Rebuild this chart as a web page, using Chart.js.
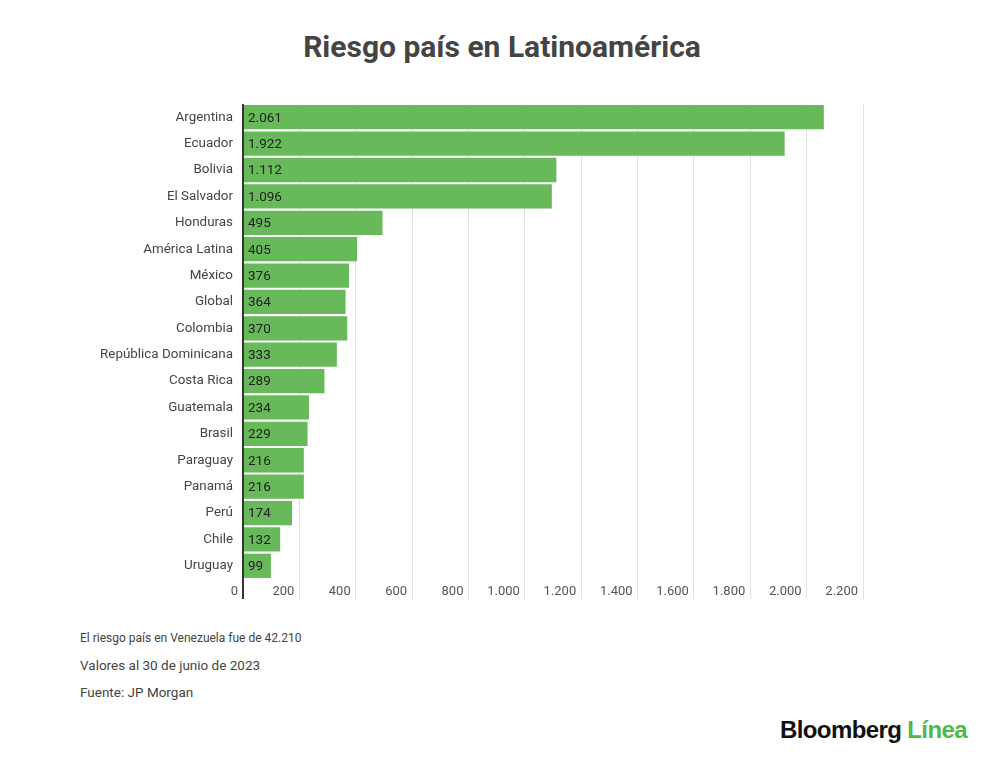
<!DOCTYPE html>
<html>
<head>
<meta charset="utf-8">
<script src="https://cdn.jsdelivr.net/npm/chart.js@4.4.1/dist/chart.umd.min.js"></script>
<style>
  html, body { margin: 0; padding: 0; background: #fff; }
  body { width: 1000px; height: 763px; position: relative; font-family: Roboto, sans-serif; color: #444; overflow: hidden; }
  h1 { position: absolute; top: 29px; left: 2px; width: 1000px; margin: 0; text-align: center; font-size: 30px; font-weight: 700; color: #444; }
  #wrap { position: absolute; left: 0; top: 86px; width: 1000px; height: 534px; }
  .note { position: absolute; left: 80px; margin: 0; color: #444; }
  #logo { position: absolute; right: 33px; top: 716px; font-family: "Liberation Sans", Arial, sans-serif; font-size: 24px; font-weight: 700; letter-spacing: -0.6px; color: #111; }
  #logo span { color: #4cb848; }
</style>
</head>
<body>
<h1>Riesgo país en Latinoamérica</h1>
<div id="wrap"><canvas id="myChart"></canvas></div>
<p class="note" style="top:631px;font-size:12px;">El riesgo país en Venezuela fue de 42.210</p>
<p class="note" style="top:657px;font-size:13.5px;">Valores al 30 de junio de 2023</p>
<p class="note" style="top:684px;font-size:13.5px;">Fuente: JP Morgan</p>
<div id="logo">Bloomberg <span>Línea</span></div>

<script>
/* DATA */
const countries = ['Argentina', 'Ecuador', 'Bolivia', 'El Salvador', 'Honduras', 'América Latina', 'México', 'Global',
  'Colombia', 'República Dominicana', 'Costa Rica', 'Guatemala', 'Brasil', 'Paraguay', 'Panamá', 'Perú', 'Chile', 'Uruguay'];
const riskValues = [2061, 1922, 1112, 1096, 495, 405, 376, 364, 370, 333, 289, 234, 229, 216, 216, 174, 132, 99];
const xTicks = [0, 200, 400, 600, 800, 1000, 1200, 1400, 1600, 1800, 2000, 2200];

function fmt(v) {
  return v.toString().replace(/\B(?=(\d{3})+(?!\d))/g, '.');
}

/* value labels inside bars */
const valueLabels = {
  id: 'valueLabels',
  afterDatasetsDraw(chart) {
    const ctx = chart.ctx;
    const meta = chart.getDatasetMeta(0);
    ctx.save();
    ctx.font = '13.5px Roboto, sans-serif';
    ctx.fillStyle = '#1e1e1e';
    ctx.textAlign = 'left';
    ctx.textBaseline = 'middle';
    meta.data.forEach(function(bar, i) {
      ctx.fillText(fmt(riskValues[i]), bar.base + 4, bar.y + 1);
    });
    ctx.restore();
  }
};

const ctx = document.getElementById('myChart').getContext('2d');
// eslint-disable-next-line no-undef
const chart = new Chart(ctx, {
  type: 'bar',
  data: {
    labels: countries,
    datasets: [{
      data: riskValues,
      backgroundColor: '#68b95a',
      borderWidth: 0,
      barPercentage: 0.92,
      categoryPercentage: 1,
    }]
  },
  plugins: [valueLabels],
  options: {
    indexAxis: 'y',
    responsive: true,
    maintainAspectRatio: false,
    animation: false,
    layout: { padding: { top: 6, right: 137, bottom: 11, left: 0 } },
    plugins: {
      legend: { display: false },
      tooltip: { enabled: false },
    },
    scales: {
      x: {
        min: 0,
        max: 2200,
        afterBuildTicks(scale) {
          scale.ticks = xTicks.map(function(v) { return { value: v }; });
        },
        afterFit(scale) { scale.height = 30; },
        border: { display: false },
        grid: {
          color: function(c) { return c.tick && c.tick.value === 0 ? '#333' : '#e2e2e2'; },
          lineWidth: function(c) { return c.tick && c.tick.value === 0 ? 2 : 1; },
          tickLength: 20,
        },
        ticks: {
          align: 'end',
          labelOffset: -5,
          padding: -15,
          maxRotation: 0,
          color: '#555',
          font: { family: 'Roboto', size: 13 },
          callback: function(v) { return fmt(v); },
        },
      },
      y: {
        afterFit(scale) { scale.width = 243; },
        border: { display: false },
        grid: { display: false, drawTicks: false },
        ticks: {
          padding: 10,
          color: '#444',
          font: { family: 'Roboto', size: 13.4 },
        },
      },
    },
  },
});
</script>
</body>
</html>
